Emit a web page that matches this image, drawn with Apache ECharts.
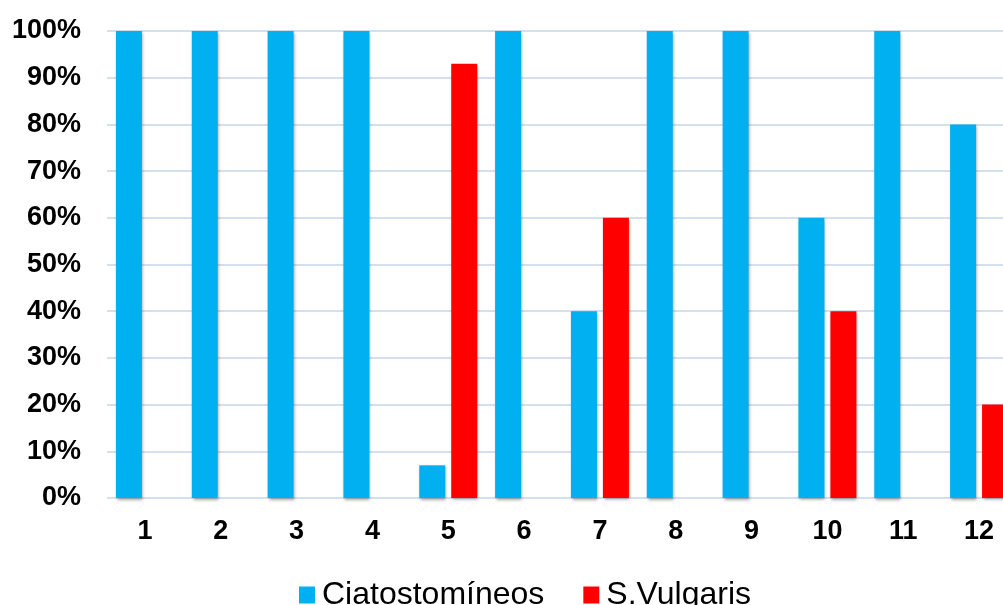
<!DOCTYPE html>
<html>
<head>
<meta charset="utf-8">
<script src="https://cdn.jsdelivr.net/npm/echarts@6/dist/echarts.min.js"></script>
<style>html,body{margin:0;padding:0;background:#fff;overflow:hidden}#c{width:1017px;height:605px}</style>
</head>
<body>
<div id="c"></div>
<script>
var categories = ['1','2','3','4','5','6','7','8','9','10','11','12'];
var ciatostomineos = [100,100,100,100,7,100,40,100,100,60,100,80];
var sVulgaris = [0,0,0,0,93,0,60,0,0,40,0,20];
var seriesNames = ['Ciatostomíneos','S.Vulgaris'];

var chart = echarts.init(document.getElementById('c'));
var shadow = {shadowBlur: 3, shadowColor: 'rgba(0,0,0,0.35)', shadowOffsetX: 1, shadowOffsetY: 2};
chart.setOption({
  animation: false,
  grid: {left: 107, right: 0, top: 31, bottom: 107, containLabel: false},
  legend: {
    top: 574, left: 294, itemWidth: 16, itemHeight: 17, itemGap: 39,
    icon: 'rect',
    textStyle: {fontFamily: 'Liberation Sans, Arial', fontSize: 32, color: '#000', padding: [0,0,0,2]},
    data: seriesNames
  },
  xAxis: {
    type: 'category', data: categories,
    axisLine: {show: false}, axisTick: {show: false},
    axisLabel: {fontFamily: 'Liberation Sans, Arial', fontWeight: 'bold', fontSize: 27, color: '#000', margin: 20}
  },
  yAxis: {
    type: 'value', min: 0, max: 100, interval: 10,
    axisLine: {show: false}, axisTick: {show: false},
    splitLine: {lineStyle: {color: '#d5e0ef', width: 2}},
    axisLabel: {formatter: '{value}%', fontFamily: 'Liberation Sans, Arial', fontWeight: 'bold', fontSize: 27, color: '#000', margin: 26}
  },
  series: [
    {name: seriesNames[0], type: 'bar', data: ciatostomineos, barWidth: 26, barGap: '23%',
     itemStyle: Object.assign({color: '#00B0F0'}, shadow)},
    {name: seriesNames[1], type: 'bar', data: sVulgaris, barWidth: 26, barGap: '23%',
     itemStyle: Object.assign({color: '#FF0000'}, shadow)}
  ]
});
</script>
</body>
</html>
